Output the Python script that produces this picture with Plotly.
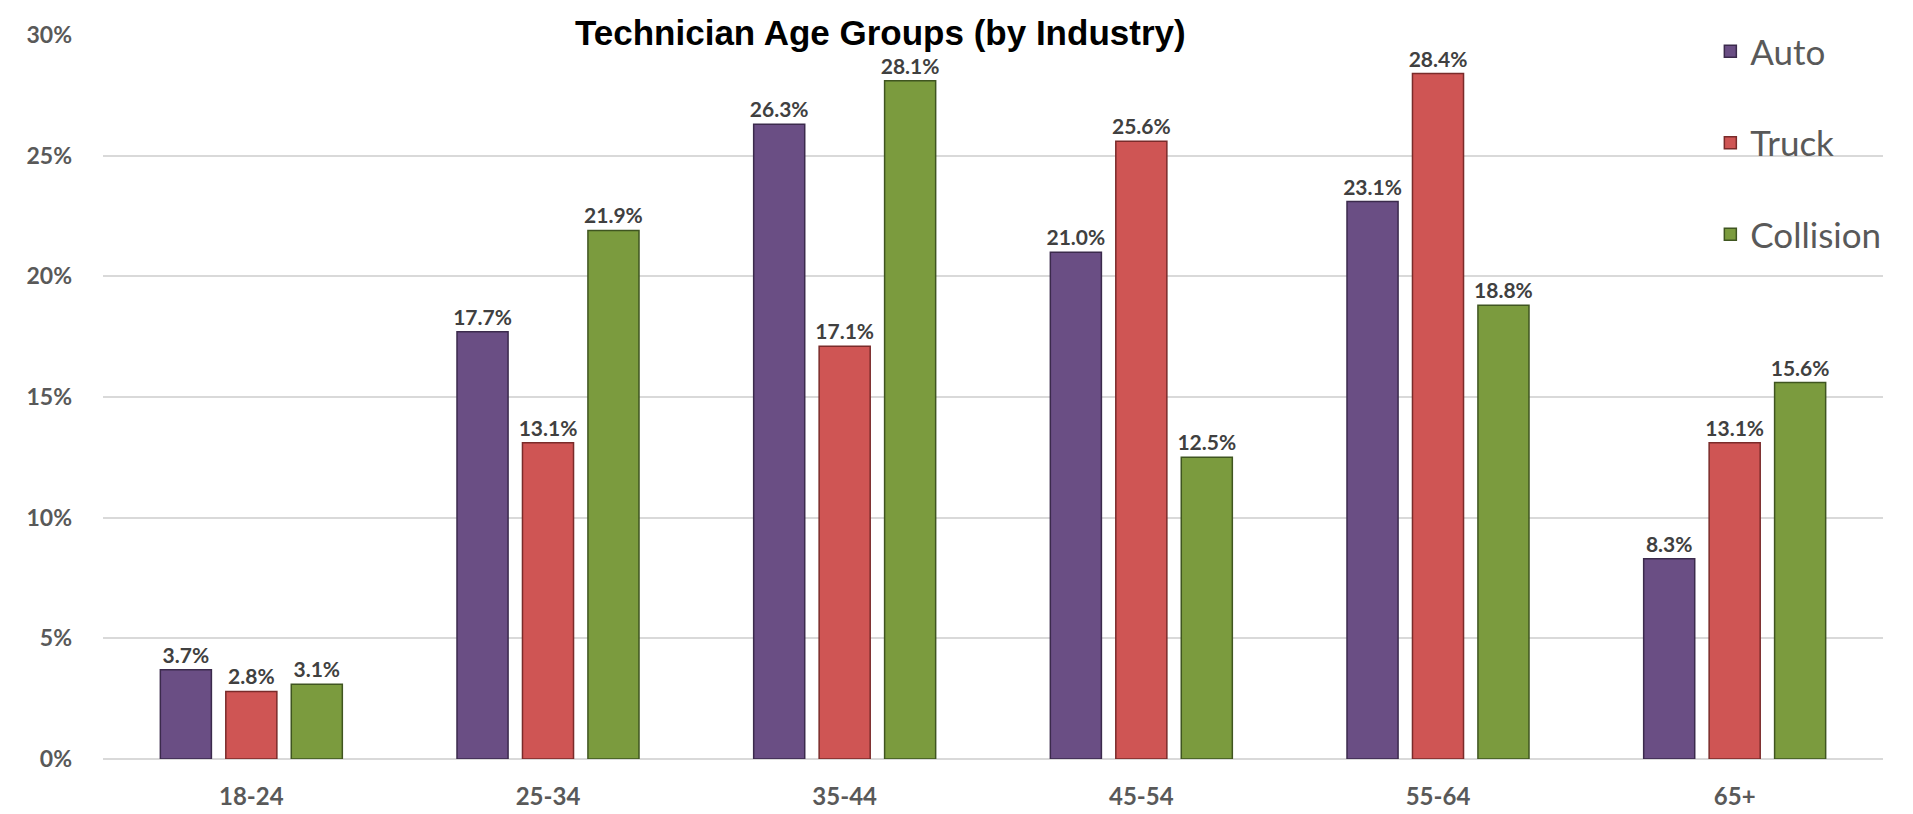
import plotly.graph_objects as go

categories = ["18-24", "25-34", "35-44", "45-54", "55-64", "65+"]
auto = [3.7, 17.7, 26.3, 21.0, 23.1, 8.3]
truck = [2.8, 13.1, 17.1, 25.6, 28.4, 13.1]
collision = [3.1, 21.9, 28.1, 12.5, 18.8, 15.6]
y_ticks = [0, 5, 10, 15, 20, 25, 30]
y_tick_labels = ["0%", "5%", "10%", "15%", "20%", "25%", "30%"]

series = [
    ("Auto", auto, "#6A4E84", "#3B2A4C"),
    ("Truck", truck, "#CF5554", "#7A2B2A"),
    ("Collision", collision, "#7B9B3E", "#3F5520"),
]

fig = go.Figure()
for i, (name, vals, col, edge) in enumerate(series):
    fig.add_trace(go.Bar(
        x=categories, y=vals, name=name,
        marker=dict(color=col, line=dict(color=edge, width=1.5)),
        text=[f"{v:.1f}%" for v in vals],
        textposition="outside",
        constraintext="none",
        textfont=dict(family="Lato", size=21, color="#404040", weight="bold"),
        cliponaxis=False,
        legendgroup=name,
    ))

fig.add_annotation(
    text="<b>Technician Age Groups (by Industry)</b>",
    xref="paper", yref="paper", x=0.437, y=1, xanchor="center", yanchor="bottom",
    yshift=-18, showarrow=False, borderpad=0,
    font=dict(family="Liberation Sans", size=35, color="#000000"),
)

fig.update_layout(
    width=1913, height=814,
    margin=dict(l=95, r=38, t=23, b=54),
    paper_bgcolor="white", plot_bgcolor="white",
    barmode="group", bargap=0.338, bargroupgap=0.22,
    showlegend=True,
    legend=dict(
        x=0.903, y=1.018, xanchor="left", yanchor="top",
        bgcolor="rgba(0,0,0,0)", traceorder="grouped", tracegroupgap=43,
        font=dict(family="Lato", size=35, color="#595959"),
    ),
    xaxis=dict(
        showgrid=False, showline=False, zeroline=False,
        tickfont=dict(family="Lato", size=24, color="#595959", weight="bold"),
        ticklabelstandoff=21,
    ),
    yaxis=dict(
        range=[0, 30], tickvals=y_ticks, ticktext=y_tick_labels,
        showgrid=True, gridcolor="#D9D9D9", gridwidth=1.5,
        zeroline=True, zerolinecolor="#D9D9D9", zerolinewidth=1.5,
        showline=False,
        tickfont=dict(family="Lato", size=23, color="#595959", weight="bold"),
        ticklabelstandoff=30,
    ),
)

fig.write_html("out.html")
